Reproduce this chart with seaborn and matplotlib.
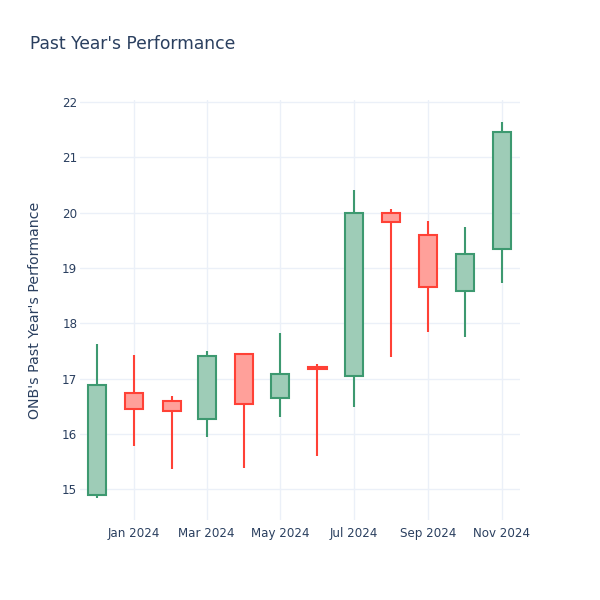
import matplotlib
matplotlib.use("Agg")
import matplotlib.pyplot as plt
import matplotlib.dates as mdates
import seaborn as sns
import pandas as pd

months = pd.date_range("2023-12-01", periods=12, freq="MS")
opens = [14.89, 16.74, 16.59, 16.26, 17.44, 16.65, 17.20, 17.05, 19.99, 19.60, 18.58, 19.34]
closes = [16.88, 16.45, 16.42, 17.41, 16.54, 17.08, 17.18, 20.00, 19.84, 18.65, 19.25, 21.46]
highs = [17.62, 17.43, 16.68, 17.49, 17.46, 17.82, 17.27, 20.42, 20.07, 19.85, 19.74, 21.65]
lows = [14.84, 15.78, 15.36, 15.94, 15.39, 16.30, 15.59, 16.49, 17.39, 17.84, 17.75, 18.73]
y_ticks = [15, 16, 17, 18, 19, 20, 21, 22]
x_ticks = pd.date_range("2024-01-01", periods=6, freq="2MS")

UP_LINE, UP_FILL = "#3D9970", "#9ECCB7"
DOWN_LINE, DOWN_FILL = "#FF4136", "#FFA09A"
TEXT = "#2a3f5f"
GRID = "#EBF0F8"

sns.set_theme(style="white")
plt.rcParams["font.family"] = ["DejaVu Sans"]

fig = plt.figure(figsize=(6, 6), dpi=100)
ax = fig.add_axes([80 / 600, 80 / 600, 440 / 600, 420 / 600])

df = pd.DataFrame({"date": months, "open": opens, "close": closes,
                   "high": highs, "low": lows})
df["x"] = mdates.date2num(df["date"])
df["up"] = df["close"] >= df["open"]
df["bottom"] = df[["open", "close"]].min(axis=1)
df["top"] = df[["open", "close"]].max(axis=1)

width = 15  # days
for _, r in df.iterrows():
    line = UP_LINE if r["up"] else DOWN_LINE
    fill = UP_FILL if r["up"] else DOWN_FILL
    ax.vlines(r["x"], r["low"], r["bottom"], color=line, lw=1.5, zorder=2)
    ax.vlines(r["x"], r["top"], r["high"], color=line, lw=1.5, zorder=2)
    ax.bar(r["x"], r["top"] - r["bottom"], bottom=r["bottom"], width=width,
           color=fill, edgecolor=line, linewidth=1.5, zorder=3)

ax.set_xlim(mdates.date2num(pd.Timestamp("2023-11-17")),
            mdates.date2num(pd.Timestamp("2024-11-16")))
ax.set_ylim(14.44, 22.04)
ax.set_yticks(y_ticks)
ax.set_xticks(mdates.date2num(x_ticks))
ax.set_xticklabels([d.strftime("%b %Y") for d in x_ticks])
ax.tick_params(colors=TEXT, labelsize=8.6, length=0)
ax.tick_params(axis="y", pad=2)
ax.tick_params(axis="x", pad=5)
ax.grid(True, color=GRID, linewidth=1, zorder=0)
ax.set_axisbelow(True)
sns.despine(ax=ax, left=True, bottom=True)

ax.set_ylabel("ONB's Past Year's Performance", color=TEXT, fontsize=10.2)
ax.yaxis.set_label_coords(-(80 - 42) / 440, 0.5)
fig.text(30 / 600, 1 - 44 / 600, "Past Year's Performance", color=TEXT,
         fontsize=12.3, va="center", ha="left")

fig.savefig("out.png", dpi=100, facecolor="white")
